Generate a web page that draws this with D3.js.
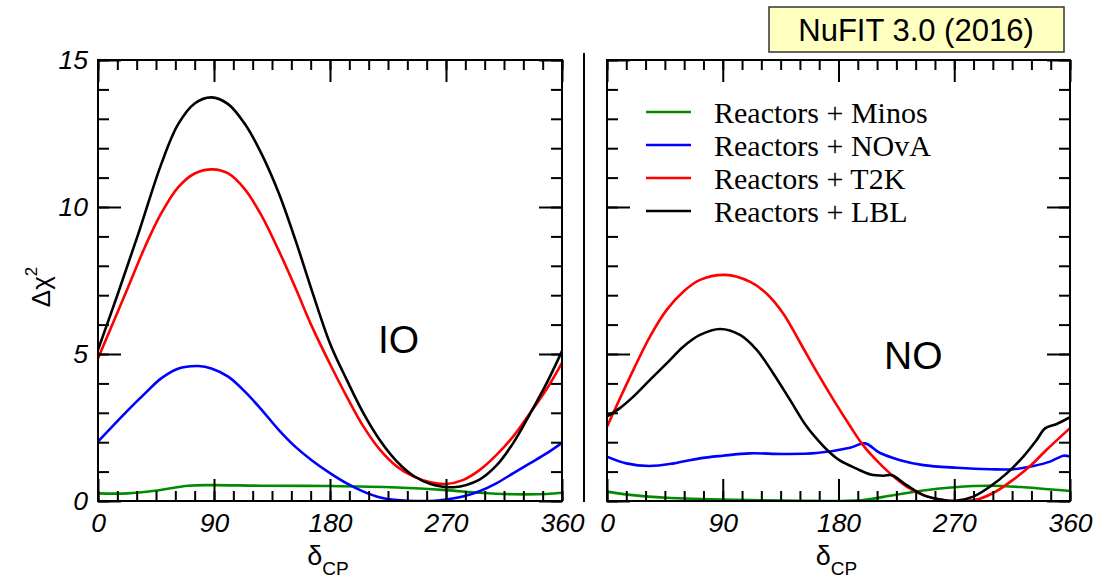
<!DOCTYPE html>
<html>
<head>
<meta charset="utf-8">
<script src="https://cdn.jsdelivr.net/npm/d3@7"></script>
<style>
  body { margin: 0; background: #fff; }
  svg { display: block; }
  .tick text { font-family: "Liberation Sans", Arial, sans-serif; font-style: italic; font-size: 26.5px; fill: #000; }
  .tick line { stroke: #000; stroke-width: 2px; }
</style>
</head>
<body>
<script>
// delta_CP (deg) vs Delta chi^2
var ioMinos = [[0,0.26],[23,0.26],[44,0.35],[70,0.52],[88,0.54],[127,0.52],[180,0.51],[232,0.46],[270,0.37],[296,0.28],[322,0.23],[348,0.24],[360,0.28]];
var ioNova = [[0,2.02],[23.5,3.1],[36.5,3.66],[49,4.17],[62,4.5],[78,4.59],[88,4.51],[101,4.23],[114,3.72],[127,3.1],[140,2.43],[153,1.85],[166,1.38],[180,0.95],[193,0.6],[206,0.32],[219,0.12],[232,0.03],[245,0],[258,0],[270,0.05],[283,0.15],[296,0.33],[309,0.6],[322,0.94],[335,1.28],[348,1.62],[360,1.98]];
var ioT2K = [[0,4.85],[23.5,7.29],[36.5,8.65],[49,9.78],[62,10.66],[75,11.14],[89,11.28],[101,11.14],[114,10.6],[127,9.7],[140,8.54],[153,7.27],[166,5.93],[180,4.66],[193,3.55],[206,2.53],[219,1.73],[232,1.17],[245,0.83],[258,0.64],[270,0.58],[283,0.71],[296,1.05],[309,1.56],[322,2.19],[335,2.98],[348,3.8],[360,4.7]];
var ioLBL = [[0,5.14],[15,7.0],[31,9.05],[49,11.45],[62,12.8],[75,13.52],[88,13.73],[101,13.5],[114,12.82],[127,11.8],[140,10.5],[153,8.9],[166,7.15],[180,5.36],[193,4.12],[206,2.98],[219,2.05],[232,1.34],[245,0.85],[258,0.58],[276,0.47],[296,0.73],[309,1.2],[322,1.96],[335,2.95],[348,4.0],[360,5.1]];

var noMinos = [[0,0.32],[20,0.2],[46,0.11],[72,0.07],[111,0.03],[150,0.01],[181,0],[196,0.02],[207,0.08],[220,0.18],[246,0.36],[270,0.47],[298,0.52],[324,0.47],[360,0.34]];
var noNova = [[0,1.51],[15,1.28],[33,1.19],[52,1.28],[72,1.45],[90,1.54],[111,1.62],[137,1.6],[163,1.63],[189,1.81],[200.6,1.96],[212,1.64],[228,1.39],[246,1.22],[272,1.13],[298,1.08],[316,1.08],[331.5,1.19],[344.5,1.34],[355,1.54],[360,1.51]];
var noT2K = [[0,2.53],[20.5,4.46],[33.4,5.59],[46.4,6.5],[59.3,7.12],[72.3,7.52],[92,7.69],[111,7.46],[124,7.06],[137,6.38],[150,5.4],[163,4.4],[176,3.45],[189,2.55],[198,1.96],[207,1.5],[220,0.94],[233,0.49],[246,0.2],[259,0.05],[277,0],[290,0.08],[303,0.34],[316,0.73],[329,1.19],[342,1.75],[360,2.48]];
var noLBL = [[0,2.88],[10,3.16],[20.5,3.55],[33.4,4.12],[46.4,4.68],[59.3,5.25],[72.3,5.65],[88,5.85],[103.4,5.65],[116.4,5.14],[129.3,4.34],[142.3,3.44],[155,2.55],[165,2.02],[173,1.66],[181,1.38],[194,1.1],[205,0.9],[215,0.86],[221.4,0.88],[233,0.54],[246,0.2],[259,0.05],[270,0],[284.8,0.15],[297.8,0.49],[310.8,0.94],[323.7,1.51],[334,2.07],[340.6,2.47],[349.7,2.62],[360,2.85]];

var legendNames = ["Reactors + Minos", "Reactors + NOvA", "Reactors + T2K", "Reactors + LBL"];
var colors = ["rgb(0,140,0)", "#0000ff", "#ff0000", "#000000"];
var xMajor = [0, 90, 180, 270, 360];
var yMajor = [0, 5, 10, 15];

var W = 1095, H = 581;
var yTop = 60, yBottom = 501;

var svg = d3.select("body").append("svg")
    .attr("width", W)
    .attr("height", H);

var y = d3.scaleLinear().domain([0, 15]).range([yBottom, yTop]);
var xMinor = d3.range(0, 361, 15);
var yMinor = d3.range(0, 16, 1);

function drawPanel(x0, x1, series, name, nameX, nameY, withYLabels) {
    var x = d3.scaleLinear().domain([0, 360]).range([x0, x1]);
    var g = svg.append("g");

    // clip so curves stay inside the frame
    var id = "clip" + name;
    svg.append("clipPath").attr("id", id)
        .append("rect").attr("x", x0).attr("y", yTop).attr("width", x1 - x0).attr("height", yBottom - yTop + 1);

    var line = d3.line()
        .x(function (d) { return x(d[0]); })
        .y(function (d) { return y(d[1]); })
        .curve(d3.curveCatmullRom.alpha(0.5));

    g.append("g").attr("clip-path", "url(#" + id + ")")
        .selectAll("path")
        .data(series).enter()
        .append("path")
        .attr("d", line)
        .attr("fill", "none")
        .attr("stroke", function (d, i) { return colors[i]; })
        .attr("stroke-width", 2.6);

    // minor ticks, all four sides, pointing in
    var noLab = function () { return ""; };
    g.append("g").attr("transform", "translate(0," + yBottom + ")")
        .call(d3.axisBottom(x).tickValues(xMinor).tickSize(-10).tickFormat(noLab));
    g.append("g").attr("transform", "translate(0," + yTop + ")")
        .call(d3.axisTop(x).tickValues(xMinor).tickSize(-10).tickFormat(noLab));
    g.append("g").attr("transform", "translate(" + x0 + ",0)")
        .call(d3.axisLeft(y).tickValues(yMinor).tickSize(-11).tickFormat(noLab));
    g.append("g").attr("transform", "translate(" + x1 + ",0)")
        .call(d3.axisRight(y).tickValues(yMinor).tickSize(-11).tickFormat(noLab));

    // major ticks
    g.append("g").attr("transform", "translate(0," + yBottom + ")")
        .call(d3.axisBottom(x).tickValues(xMajor).tickSize(-22).tickPadding(12).tickFormat(d3.format("d")));
    g.append("g").attr("transform", "translate(0," + yTop + ")")
        .call(d3.axisTop(x).tickValues(xMajor).tickSize(-22).tickFormat(noLab));
    g.append("g").attr("transform", "translate(" + x0 + ",0)")
        .call(d3.axisLeft(y).tickValues(yMajor).tickSize(-23).tickPadding(10)
            .tickFormat(withYLabels ? d3.format("d") : noLab));
    g.append("g").attr("transform", "translate(" + x1 + ",0)")
        .call(d3.axisRight(y).tickValues(yMajor).tickSize(-23).tickFormat(noLab));

    g.selectAll(".domain").remove();

    g.append("rect")
        .attr("x", x0).attr("y", yTop)
        .attr("width", x1 - x0).attr("height", yBottom - yTop)
        .attr("fill", "none").attr("stroke", "#000").attr("stroke-width", 2);

    // delta_CP label
    var lab = g.append("text")
        .attr("x", (x0 + x1) / 2 - 2).attr("y", 565)
        .attr("text-anchor", "middle")
        .style("font-family", "Liberation Sans, Arial, sans-serif")
        .style("font-size", "27px");
    lab.append("tspan").text("δ");
    lab.append("tspan").attr("dy", 10).style("font-size", "19px").text("CP");

    g.append("text")
        .attr("x", nameX).attr("y", nameY)
        .style("font-family", "Liberation Sans, Arial, sans-serif")
        .style("font-size", "39px")
        .text(name);
}

drawPanel(98, 562, [ioMinos, ioNova, ioT2K, ioLBL], "IO", 378, 353, true);
drawPanel(607, 1070, [noMinos, noNova, noT2K, noLBL], "NO", 884, 369, false);

// separator
svg.append("line")
    .attr("x1", 584).attr("x2", 584).attr("y1", 53).attr("y2", 502)
    .attr("stroke", "#000").attr("stroke-width", 2);

// y axis label
var yl = svg.append("text")
    .attr("transform", "translate(50,287) rotate(-90)")
    .attr("text-anchor", "middle")
    .style("font-family", "Liberation Sans, Arial, sans-serif")
    .style("font-size", "26px");
yl.append("tspan").text("Δχ");
yl.append("tspan").attr("dy", -13).style("font-size", "17px").text("2");

// legend
var leg = svg.append("g").selectAll("g")
    .data(legendNames).enter()
    .append("g")
    .attr("transform", function (d, i) { return "translate(0," + (112 + i * 33) + ")"; });
leg.append("line")
    .attr("x1", 646).attr("x2", 691)
    .attr("stroke", function (d, i) { return colors[i]; })
    .attr("stroke-width", 2.6);
leg.append("text")
    .attr("x", 714).attr("y", 11)
    .style("font-family", "Liberation Serif, Times New Roman, serif")
    .style("font-size", "30px")
    .text(function (d) { return d; });

// NuFIT box
svg.append("rect")
    .attr("x", 769).attr("y", 7).attr("width", 295).attr("height", 45)
    .attr("fill", "#ffffc0").attr("stroke", "#333").attr("stroke-width", 1.5);
svg.append("text")
    .attr("x", 916).attr("y", 41)
    .attr("text-anchor", "middle")
    .style("font-family", "Liberation Sans, Arial, sans-serif")
    .style("font-size", "31px")
    .text("NuFIT 3.0 (2016)");
</script>
</body>
</html>
